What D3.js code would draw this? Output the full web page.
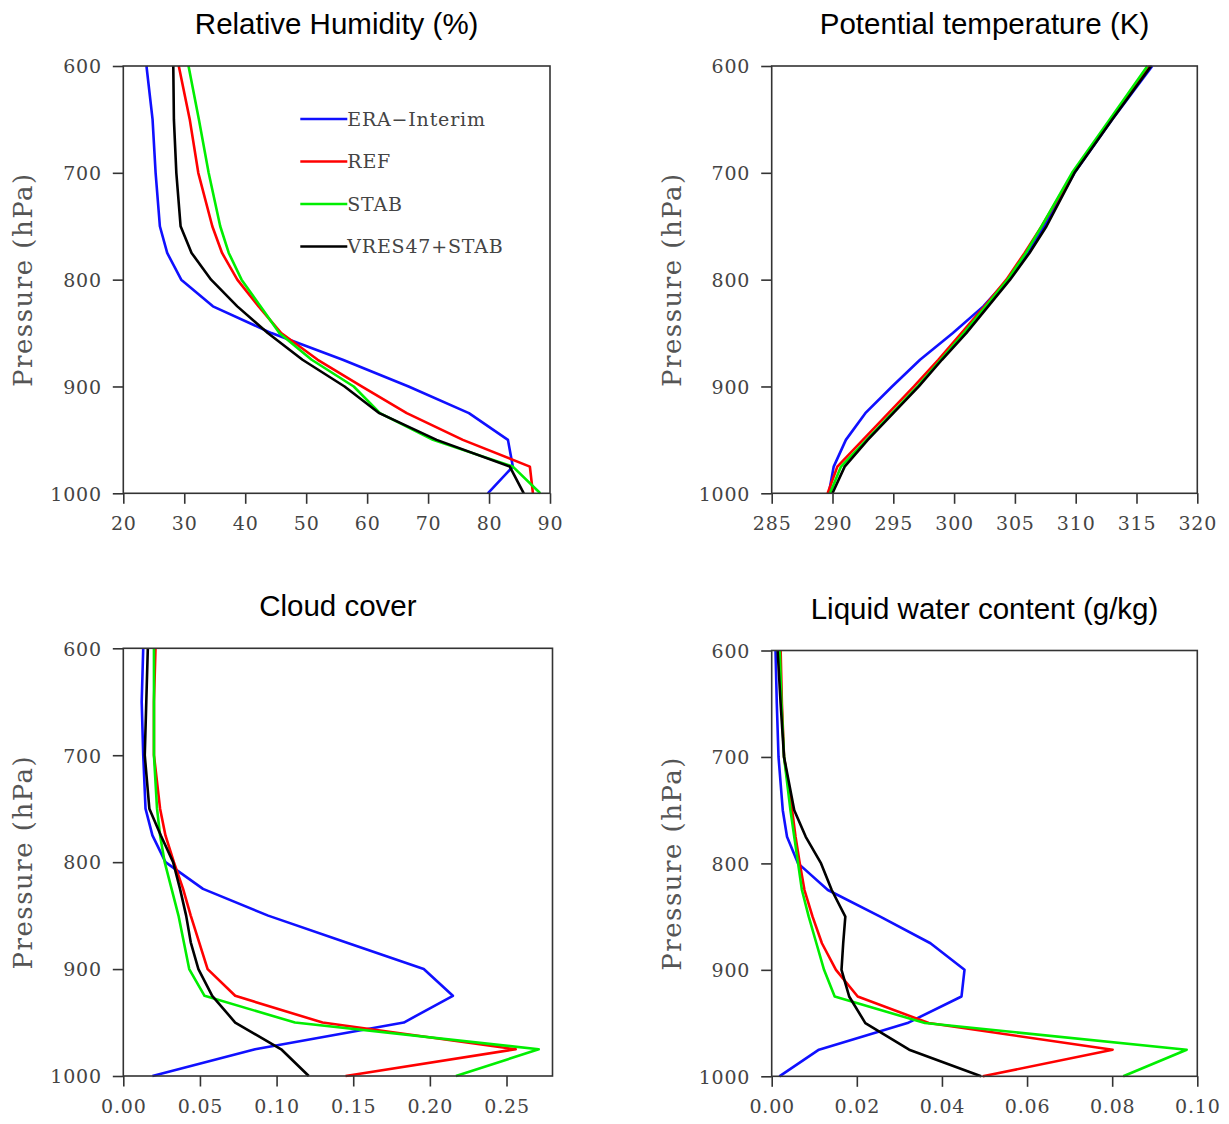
<!DOCTYPE html>
<html>
<head>
<meta charset="utf-8">
<script src="https://cdn.jsdelivr.net/npm/d3@7"></script>
<style>
  body { margin: 0; background: #fff; }
  svg { display: block; }
</style>
</head>
<body>
<div id="chart"></div>
<script>
const width = 1229;
const height = 1124;

// pressure levels (hPa)
const levels = [600, 650, 700, 750, 775, 800, 825, 850, 875, 900, 925, 950, 975, 1000];

const seriesNames = ["ERA\u2212Interim", "REF", "STAB", "VRES47+STAB"];
const seriesColors = ["#1010ff", "#ff0000", "#00ee00", "#000000"];

// Relative humidity (%)
const rhEra  = [23.8, 24.8, 25.3, 26.0, 27.2, 29.5, 34.7, 44.3, 56.0, 66.8, 76.7, 83.1, 83.9, 79.8];
const rhRef  = [29.1, 30.9, 32.3, 34.6, 36.2, 38.7, 42.2, 45.9, 51.9, 59.1, 66.5, 75.7, 86.7, 87.2];
const rhStab = [30.7, 32.4, 34.0, 35.9, 37.3, 39.4, 42.5, 45.6, 50.9, 57.8, 62.1, 70.8, 83.9, 88.4];
const rhVres = [28.2, 28.3, 28.7, 29.4, 31.2, 34.4, 38.7, 43.7, 49.4, 56.3, 62.0, 71.4, 83.4, 85.7];

// Potential temperature (K)
const thEra  = [316.3, 313.0, 309.9, 307.4, 306.1, 304.4, 302.4, 299.9, 297.2, 294.9, 292.7, 291.1, 290.1, 289.7];
const thRef  = [316.1, 312.9, 309.8, 307.2, 305.8, 304.3, 302.5, 300.6, 298.7, 296.7, 294.6, 292.5, 290.4, 289.6];
const thStab = [315.9, 312.8, 309.7, 307.2, 305.9, 304.4, 302.6, 300.8, 298.9, 297.0, 294.9, 292.8, 290.7, 289.8];
const thVres = [316.2, 313.0, 309.9, 307.6, 306.2, 304.6, 302.8, 301.0, 299.0, 297.1, 295.0, 292.9, 291.0, 290.0];

// Cloud cover (fraction)
const ccEra  = [0.013, 0.012, 0.013, 0.0145, 0.019, 0.0275, 0.052, 0.0945, 0.145, 0.196, 0.215, 0.183, 0.086, 0.019];
const ccRef  = [0.021, 0.020, 0.020, 0.024, 0.0275, 0.033, 0.039, 0.044, 0.0495, 0.055, 0.073, 0.130, 0.256, 0.145];
const ccStab = [0.020, 0.020, 0.020, 0.022, 0.024, 0.027, 0.0315, 0.036, 0.0395, 0.043, 0.053, 0.112, 0.271, 0.217];
const ccVres = [0.016, 0.015, 0.014, 0.017, 0.0245, 0.0325, 0.037, 0.041, 0.044, 0.049, 0.058, 0.073, 0.103, 0.121];

// Liquid water content (g/kg)
const lwEra  = [0.0009, 0.0012, 0.0016, 0.0026, 0.0036, 0.0062, 0.0132, 0.0255, 0.0373, 0.0453, 0.0446, 0.0319, 0.0111, 0.0018];
const lwRef  = [0.0021, 0.0024, 0.0029, 0.0048, 0.0056, 0.0066, 0.0077, 0.0096, 0.0118, 0.0151, 0.0202, 0.0369, 0.0801, 0.0496];
const lwStab = [0.0019, 0.0023, 0.0029, 0.0044, 0.0053, 0.0062, 0.0071, 0.0087, 0.0105, 0.0123, 0.0148, 0.0360, 0.0975, 0.0826];
const lwVres = [0.0014, 0.0021, 0.0029, 0.0053, 0.0080, 0.0116, 0.0141, 0.0173, 0.0168, 0.0164, 0.0182, 0.0220, 0.0323, 0.0492];

const pressureTicks = [600, 700, 800, 900, 1000];

const panels = [
  { title: "Relative Humidity (%)", domain: [20, 90], ticks: d3.range(20, 91, 10), fmt: d3.format("d"),
    series: [rhEra, rhRef, rhStab, rhVres], box: [123.3, 66, 550, 493.3], legend: true },
  { title: "Potential temperature (K)", domain: [285, 320], ticks: d3.range(285, 321, 5), fmt: d3.format("d"),
    series: [thEra, thRef, thStab, thVres], box: [771.7, 66, 1197.3, 493.3] },
  { title: "Cloud cover", domain: [0, 0.28], ticks: [0, 0.05, 0.1, 0.15, 0.2, 0.25], fmt: d3.format(".2f"),
    series: [ccEra, ccRef, ccStab, ccVres], box: [123.3, 648.3, 552.5, 1076] },
  { title: "Liquid water content (g/kg)", domain: [0, 0.1], ticks: [0, 0.02, 0.04, 0.06, 0.08, 0.1], fmt: d3.format(".2f"),
    series: [lwEra, lwRef, lwStab, lwVres], box: [771.7, 650.5, 1197.3, 1076.3] }
];

const svg = d3.select("#chart").append("svg")
  .attr("width", width)
  .attr("height", height);

const serif = "'DejaVu Serif', serif";
const sans = "'Liberation Sans', Arial, sans-serif";

panels.forEach(p => {
  const [x0, y0, x1, y1] = p.box;
  const x = d3.scaleLinear().domain(p.domain).range([x0, x1]);
  const y = d3.scaleLinear().domain([600, 1000]).range([y0, y1]);

  const g = svg.append("g");

  // axes with outward ticks
  const xAxis = g.append("g")
    .attr("transform", `translate(0,${y1})`)
    .call(d3.axisBottom(x).tickValues(p.ticks).tickFormat(p.fmt).tickSize(10.5).tickPadding(13));
  const yAxis = g.append("g")
    .attr("transform", `translate(${x0},0)`)
    .call(d3.axisLeft(y).tickValues(pressureTicks).tickFormat(d3.format("d")).tickSize(10.5).tickPadding(11));

  [xAxis, yAxis].forEach(a => {
    a.select(".domain").remove();
    a.selectAll(".tick line").attr("stroke", "#333").attr("stroke-width", 1.6);
    a.selectAll(".tick text")
      .attr("fill", "#444")
      .style("font-family", serif)
      .style("font-size", "19px")
      .style("letter-spacing", "0.8px");
  });
  yAxis.selectAll(".tick text").attr("dy", "0.36em");

  // curves
  const line = d3.line()
    .x(d => x(d[0]))
    .y(d => y(d[1]));

  p.series.forEach((vals, i) => {
    g.append("path")
      .datum(vals.map((v, k) => [v, levels[k]]))
      .attr("fill", "none")
      .attr("stroke", seriesColors[i])
      .attr("stroke-width", 2.6)
      .attr("stroke-linejoin", "round")
      .attr("d", line);
  });

  // frame
  g.append("rect")
    .attr("x", x0)
    .attr("y", y0)
    .attr("width", x1 - x0)
    .attr("height", y1 - y0)
    .attr("fill", "none")
    .attr("stroke", "#333")
    .attr("stroke-width", 1.6);

  // title
  g.append("text")
    .attr("x", (x0 + x1) / 2)
    .attr("y", y0 - 32)
    .attr("text-anchor", "middle")
    .style("font-family", sans)
    .style("font-size", "29.5px")
    .attr("fill", "#000")
    .text(p.title);

  // y label
  g.append("text")
    .attr("transform", `translate(${x0 - 100},${(y0 + y1) / 2}) rotate(-90)`)
    .attr("text-anchor", "middle")
    .attr("dy", "0.35em")
    .style("font-family", serif)
    .style("font-size", "26px")
    .style("letter-spacing", "1.5px")
    .attr("fill", "#555")
    .text("Pressure (hPa)");

  if (p.legend) {
    const lg = g.append("g").attr("transform", `translate(${x0 + 177},${y0 + 53})`);
    seriesNames.forEach((name, i) => {
      const row = lg.append("g").attr("transform", `translate(0,${i * 42.5})`);
      row.append("line")
        .attr("x1", 0).attr("x2", 47)
        .attr("stroke", seriesColors[i])
        .attr("stroke-width", 2.6);
      row.append("text")
        .attr("x", 47)
        .attr("dy", "0.36em")
        .attr("fill", "#444")
        .style("font-family", serif)
        .style("font-size", "19px")
        .style("letter-spacing", "0.8px")
        .text(name);
    });
  }
});
</script>
</body>
</html>
